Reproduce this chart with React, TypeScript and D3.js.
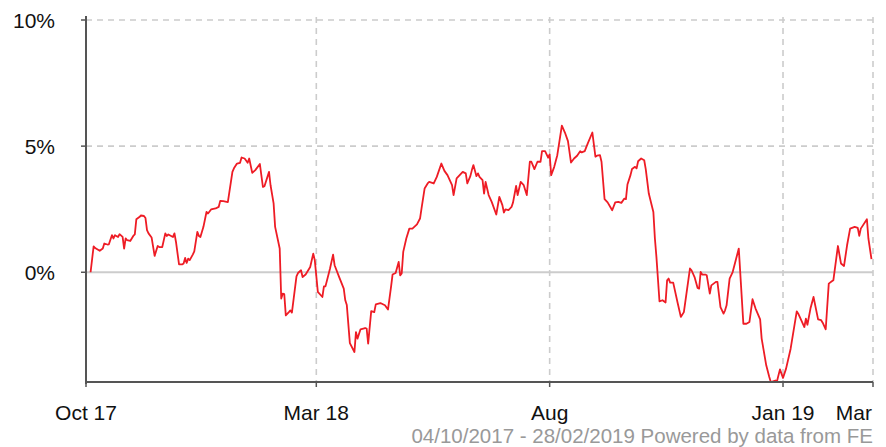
import React, { useEffect, useRef } from "react";
import * as d3 from "d3";

const width = 886;
const height = 447;

// performance series (%)
const dates = [
  "2017-10-04", "2017-10-06", "2017-10-07", "2017-10-10", "2017-10-12", "2017-10-13", "2017-10-15", "2017-10-16",
  "2017-10-18", "2017-10-19", "2017-10-20", "2017-10-22", "2017-10-23", "2017-10-25", "2017-10-26", "2017-10-27",
  "2017-10-28", "2017-10-30", "2017-11-01", "2017-11-02", "2017-11-03", "2017-11-05", "2017-11-06", "2017-11-08",
  "2017-11-09", "2017-11-10", "2017-11-11", "2017-11-13", "2017-11-15", "2017-11-17", "2017-11-18", "2017-11-20",
  "2017-11-22", "2017-11-23", "2017-11-24", "2017-11-27", "2017-11-28", "2017-11-29", "2017-12-01", "2017-12-03",
  "2017-12-04", "2017-12-05", "2017-12-06", "2017-12-07", "2017-12-08", "2017-12-10", "2017-12-11", "2017-12-13",
  "2017-12-14", "2017-12-15", "2017-12-17", "2017-12-19", "2017-12-20", "2017-12-22", "2017-12-25", "2017-12-27",
  "2017-12-28", "2017-12-30", "2018-01-02", "2018-01-05", "2018-01-06", "2018-01-08", "2018-01-10", "2018-01-11",
  "2018-01-13", "2018-01-15", "2018-01-16", "2018-01-18", "2018-01-20", "2018-01-23", "2018-01-25", "2018-01-26",
  "2018-01-29", "2018-01-30", "2018-02-01", "2018-02-02", "2018-02-05", "2018-02-06", "2018-02-07", "2018-02-08",
  "2018-02-09", "2018-02-11", "2018-02-12", "2018-02-13", "2018-02-16", "2018-02-17", "2018-02-19", "2018-02-20",
  "2018-02-22", "2018-02-23", "2018-02-25", "2018-02-27", "2018-02-28", "2018-03-02", "2018-03-05", "2018-03-06",
  "2018-03-07", "2018-03-10", "2018-03-12", "2018-03-13", "2018-03-16", "2018-03-19", "2018-03-20", "2018-03-21",
  "2018-03-23", "2018-03-26", "2018-03-27", "2018-03-28", "2018-03-30", "2018-04-02", "2018-04-03", "2018-04-04",
  "2018-04-06", "2018-04-08", "2018-04-09", "2018-04-12", "2018-04-15", "2018-04-17", "2018-04-19", "2018-04-20",
  "2018-04-22", "2018-04-24", "2018-04-25", "2018-04-26", "2018-04-27", "2018-04-29", "2018-05-01", "2018-05-03",
  "2018-05-06", "2018-05-08", "2018-05-09", "2018-05-11", "2018-05-13", "2018-05-14", "2018-05-17", "2018-05-19",
  "2018-05-22", "2018-05-24", "2018-05-26", "2018-05-29", "2018-05-30", "2018-06-01", "2018-06-03", "2018-06-05",
  "2018-06-07", "2018-06-08", "2018-06-10", "2018-06-11", "2018-06-12", "2018-06-14", "2018-06-15", "2018-06-16",
  "2018-06-18", "2018-06-19", "2018-06-20", "2018-06-22", "2018-06-24", "2018-06-27", "2018-06-29", "2018-07-01",
  "2018-07-02", "2018-07-03", "2018-07-05", "2018-07-07", "2018-07-08", "2018-07-10", "2018-07-11", "2018-07-13",
  "2018-07-15", "2018-07-17", "2018-07-19", "2018-07-20", "2018-07-22", "2018-07-24", "2018-07-26", "2018-07-27",
  "2018-07-29", "2018-07-31", "2018-08-01", "2018-08-02", "2018-08-04", "2018-08-06", "2018-08-09", "2018-08-11",
  "2018-08-13", "2018-08-15", "2018-08-17", "2018-08-19", "2018-08-21", "2018-08-22", "2018-08-24", "2018-08-26",
  "2018-08-29", "2018-08-31", "2018-09-01", "2018-09-03", "2018-09-04", "2018-09-06", "2018-09-08", "2018-09-11",
  "2018-09-13", "2018-09-15", "2018-09-17", "2018-09-19", "2018-09-20", "2018-09-21", "2018-09-23", "2018-09-24",
  "2018-09-26", "2018-09-27", "2018-09-28", "2018-09-30", "2018-10-02", "2018-10-03", "2018-10-05", "2018-10-08",
  "2018-10-09", "2018-10-10", "2018-10-12", "2018-10-14", "2018-10-16", "2018-10-17", "2018-10-18", "2018-10-19",
  "2018-10-21", "2018-10-24", "2018-10-26", "2018-10-28", "2018-11-01", "2018-11-02", "2018-11-04", "2018-11-06",
  "2018-11-07", "2018-11-08", "2018-11-09", "2018-11-11", "2018-11-12", "2018-11-14", "2018-11-15", "2018-11-18",
  "2018-11-19", "2018-11-21", "2018-11-23", "2018-11-24", "2018-11-25", "2018-11-27", "2018-11-29", "2018-12-01",
  "2018-12-03", "2018-12-06", "2018-12-08", "2018-12-10", "2018-12-12", "2018-12-14", "2018-12-17", "2018-12-18",
  "2018-12-21", "2018-12-23", "2018-12-24", "2018-12-27", "2018-12-28", "2018-12-30", "2019-01-01", "2019-01-03",
  "2019-01-06", "2019-01-10", "2019-01-11", "2019-01-15", "2019-01-16", "2019-01-17", "2019-01-19", "2019-01-21",
  "2019-01-24", "2019-01-26", "2019-01-27", "2019-01-29", "2019-01-31", "2019-02-02", "2019-02-03", "2019-02-06",
  "2019-02-08", "2019-02-10", "2019-02-12", "2019-02-14", "2019-02-17", "2019-02-19", "2019-02-20", "2019-02-21",
  "2019-02-25", "2019-02-26", "2019-02-28",
];

const values = [
  0.0, 1.03, 0.96, 0.85, 0.94, 1.14, 1.1, 1.11,
  1.47, 1.34, 1.47, 1.4, 1.51, 1.4, 0.94, 1.34,
  1.27, 1.24, 1.44, 1.5, 2.1, 2.19, 2.25, 2.23,
  2.15, 1.67, 1.54, 1.38, 0.65, 1.04, 1.0, 1.0,
  1.54, 1.44, 1.5, 1.4, 1.54, 1.2, 0.31, 0.31,
  0.35, 0.57, 0.37, 0.54, 0.48, 0.7, 0.83, 1.6,
  1.44, 1.4, 1.8, 2.39, 2.33, 2.49, 2.53, 2.59,
  2.83, 2.82, 2.78, 3.98, 4.12, 4.31, 4.34, 4.55,
  4.51, 4.34, 4.51, 3.94, 4.05, 4.29, 3.38, 3.41,
  3.98, 3.45, 2.73, 1.8, 0.94, -1.04, -0.85, -0.87,
  -1.71, -1.58, -1.51, -1.6, -0.16, -0.03, 0.08, -0.19,
  -0.09, 0.01, 0.21, 0.74, 0.48, -0.78, -0.98, -0.56,
  -0.56, 0.15, 0.7, 0.28, -0.19, -0.65, -1.11, -1.3,
  -2.81, -3.16, -2.37, -2.63, -2.26, -2.21, -2.23, -2.83,
  -1.54, -1.58, -1.27, -1.22, -1.31, -1.48, -0.58, -0.09,
  -0.03, 0.41, -0.12, -0.05, 0.81, 1.34, 1.73, 1.73,
  1.9, 2.13, 2.53, 3.32, 3.52, 3.58, 3.52, 3.78,
  4.31, 4.02, 3.85, 3.45, 3.06, 3.72, 3.85, 3.98,
  3.92, 3.52, 3.81, 4.05, 4.25, 3.81, 3.92, 3.78,
  3.65, 3.12, 3.58, 3.06, 2.79, 2.29, 2.99, 2.66,
  2.37, 2.49, 2.46, 2.59, 2.77, 3.42, 3.06, 3.58,
  3.45, 3.06, 4.38, 4.38, 4.09, 4.38, 4.38, 4.8,
  4.8, 4.54, 4.67, 3.85, 4.18, 4.64, 5.81, 5.54,
  5.2, 4.35, 4.51, 4.62, 4.8, 4.75, 4.8, 5.11,
  5.54, 4.58, 4.62, 4.64, 4.38, 2.9, 2.77, 2.46,
  2.77, 2.79, 2.75, 2.92, 2.9, 3.48, 3.85, 4.09,
  4.18, 4.12, 4.4, 4.51, 4.44, 4.09, 3.12, 2.39,
  1.34, 0.61, -1.15, -1.11, -1.2, -0.32, -0.25, -0.41,
  -0.41, -1.24, -1.77, -1.58, 0.15, 0.08, -0.19, -0.62,
  -0.65, 0.01, -0.09, -0.09, -0.12, -0.85, -0.52, -0.38,
  -0.38, -1.38, -1.64, -1.51, -1.31, -0.25, 0.01, 0.48,
  0.94, -2.04, -2.04, -1.97, -1.07, -1.44, -1.87, -2.63,
  -3.69, -4.15, -4.35, -4.29, -4.33, -3.85, -4.19, -3.82,
  -3.03, -1.55, -1.64, -2.17, -1.84, -2.08, -1.44, -0.98,
  -1.87, -1.9, -2.0, -2.26, -0.45, -0.36, -0.32, 1.04,
  0.35, 0.25, 1.07, 1.73, 1.8, 1.76, 1.44, 1.73,
  2.1, 1.33, 0.52,
];

const yTicks = [0, 5, 10];
const xTickDates = ["2017-10-01", "2018-03-01", "2018-08-01", "2019-01-01", "2019-03-01"];
const xTickLabels = ["Oct 17", "Mar 18", "Aug", "Jan 19", "Mar"];
const footer = "04/10/2017 - 28/02/2019 Powered by data from FE";

const margin = { left: 86, right: 13, top: 20, bottom: 65 };
const font = "Arial, 'Liberation Sans', sans-serif";

const PerformanceChart = () => {
  const chart = useRef<SVGSVGElement>(null);

  useEffect(() => {
    const parse = d3.timeParse("%Y-%m-%d");
    const data = dates.map((d, i) => ({ date: parse(d) as Date, value: values[i] }));
    const ticks = xTickDates.map((d) => parse(d) as Date);

    const x = d3
      .scaleTime()
      .domain([ticks[0], ticks[ticks.length - 1]])
      .range([margin.left, width - margin.right]);
    const y = d3
      .scaleLinear()
      .domain([d3.min(values) as number, 10])
      .range([height - margin.bottom, margin.top]);

    const svg = d3.select(chart.current);
    svg.selectAll("*").remove();

    const bottom = y.range()[0];

    // horizontal grid
    svg
      .append("g")
      .selectAll("line")
      .data(yTicks)
      .join("line")
      .attr("x1", margin.left)
      .attr("x2", width - margin.right)
      .attr("y1", (d) => y(d))
      .attr("y2", (d) => y(d))
      .attr("stroke", "#cccccc")
      .attr("stroke-width", (d) => (d === 0 ? 2 : 1.6))
      .attr("stroke-dasharray", (d) => (d === 0 ? null : "6,5"));

    // vertical grid
    svg
      .append("g")
      .selectAll("line")
      .data(ticks.slice(1))
      .join("line")
      .attr("x1", (d) => x(d))
      .attr("x2", (d) => x(d))
      .attr("y1", y(10) - 3)
      .attr("y2", bottom)
      .attr("stroke", "#cccccc")
      .attr("stroke-width", 1.6)
      .attr("stroke-dasharray", "6,5");

    // series
    const line = d3
      .line<{ date: Date; value: number }>()
      .x((d) => x(d.date))
      .y((d) => y(d.value));

    svg
      .append("path")
      .datum(data)
      .attr("fill", "none")
      .attr("stroke", "#ee1c25")
      .attr("stroke-width", 1.8)
      .attr("stroke-linejoin", "round")
      .attr("d", line);

    // axes
    const axisColor = "#555555";
    svg
      .append("line")
      .attr("x1", margin.left)
      .attr("x2", margin.left)
      .attr("y1", y(10) - 4)
      .attr("y2", bottom + 2)
      .attr("stroke", axisColor)
      .attr("stroke-width", 2);
    svg
      .append("line")
      .attr("x1", margin.left)
      .attr("x2", width - margin.right)
      .attr("y1", bottom)
      .attr("y2", bottom)
      .attr("stroke", axisColor)
      .attr("stroke-width", 2);

    // y ticks + labels
    const yg = svg.append("g").selectAll("g").data(yTicks).join("g");
    yg.append("line")
      .attr("x1", margin.left - 5)
      .attr("x2", margin.left)
      .attr("y1", (d) => y(d))
      .attr("y2", (d) => y(d))
      .attr("stroke", axisColor)
      .attr("stroke-width", 1.5);
    yg.append("text")
      .text((d) => `${d}%`)
      .attr("x", 55)
      .attr("y", (d) => y(d) + 2)
      .attr("text-anchor", "end")
      .attr("dominant-baseline", "middle")
      .attr("font-family", font)
      .attr("font-size", 21)
      .attr("fill", "#111");

    // x ticks + labels
    const xg = svg.append("g").selectAll("g").data(ticks).join("g");
    xg.append("line")
      .attr("x1", (d) => x(d))
      .attr("x2", (d) => x(d))
      .attr("y1", bottom)
      .attr("y2", bottom + 5)
      .attr("stroke", axisColor)
      .attr("stroke-width", 1.5);
    xg.append("text")
      .text((d, i) => xTickLabels[i])
      .attr("x", (d, i) => (i === ticks.length - 1 ? x(d) - 1 : x(d)))
      .attr("y", bottom + 38)
      .attr("text-anchor", (d, i) => (i === ticks.length - 1 ? "end" : "middle"))
      .attr("font-family", font)
      .attr("font-size", 21)
      .attr("fill", "#111");

    svg
      .append("text")
      .text(footer)
      .attr("x", width - margin.right)
      .attr("y", 443)
      .attr("text-anchor", "end")
      .attr("font-family", font)
      .attr("font-size", 20.5)
      .attr("fill", "#999");
  }, []);

  return (
    <svg
      ref={chart}
      width={width}
      height={height}
      style={{ position: "absolute", left: 0, top: 0, background: "#fff" }}
    ></svg>
  );
};

export default function App() {
  return <PerformanceChart />;
}
